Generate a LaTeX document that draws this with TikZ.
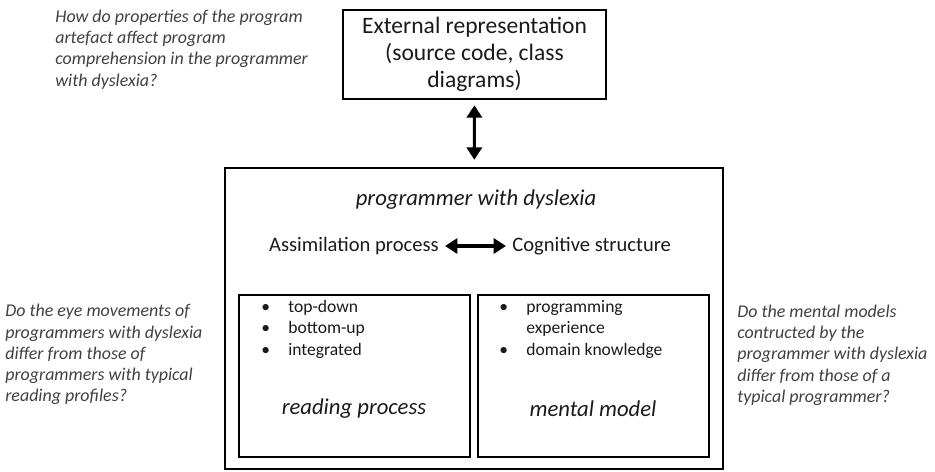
\documentclass[tikz,border=0pt]{standalone}
\usepackage{fontspec}
\setmainfont{Carlito}
\usetikzlibrary{arrows.meta}

\definecolor{qgray}{HTML}{404040}
\definecolor{boxtext}{HTML}{1A1A1A}

\begin{document}
\begin{tikzpicture}[x=0.2mm, y=-0.2mm]

\tikzset{
  frame/.style={rectangle, draw, line width=1.4pt},
  question/.style={anchor=north west, inner sep=0pt, align=left, text=qgray, font=\fontsize{10.2}{12.1}\selectfont\itshape},
  heading/.style={inner sep=0pt, text=boxtext, font=\fontsize{12.9}{15}\selectfont\itshape},
  proc/.style={inner sep=1.2mm, text=boxtext, font=\fontsize{11.7}{14}\selectfont},
  bullets/.style={anchor=base west, inner sep=0pt, text=boxtext, font=\fontsize{10}{12.4}\selectfont},
  >={Triangle[width=8.5pt, length=7pt]}
}

\useasboundingbox (0,0) rectangle (935,471);

% --- Kaesten ---
\node[frame, minimum width=52.6mm, minimum height=17.8mm, align=center, text=boxtext,
      font=\fontsize{13.4}{15.5}\selectfont] (extbox) at (474.5,54.5)
      {External representation\\(source code, class\\diagrams)};
\node[frame, minimum width=99.6mm, minimum height=60.2mm] (progbox) at (474,318.5) {};
\node[frame, minimum width=46.2mm, minimum height=32.4mm] (readbox) at (354.5,376) {};
\node[frame, minimum width=46.2mm, minimum height=32.4mm] (mentbox) at (593.5,376) {};

% --- Texte im grossen Kasten ---
\node[heading] (progtitle) at (476,200) {programmer with dyslexia};
\node[proc, anchor=east] (assim) at (445,246) {Assimilation process};
\node[proc, anchor=west] (cogn) at (506,246) {Cognitive structure};

\node[bullets] (readlist) at (261,312) {\begin{tabular}[t]{@{}p{5.4mm}@{}l@{}}
  \textbullet & top-down\\ \textbullet & bottom-up\\ \textbullet & integrated\end{tabular}};
\node[bullets] (mentlist) at (499,312) {\begin{tabular}[t]{@{}p{5.4mm}@{}l@{}}
  \textbullet & programming\\ & experience\\ \textbullet & domain knowledge\end{tabular}};

\node[heading] (readname) at (354,409) {reading process};
\node[heading] (mentname) at (593,409) {mental model};

% --- Pfeile ---
\draw[<->, line width=1.8pt, shorten <=1mm, shorten >=1.4mm] (extbox) -- (progbox);
\draw[<->, line width=1.8pt] (assim) -- (cogn);

% --- Fragen ---
\node[question] (qtop) at (55,9.5)
  {How do properties of the program\\artefact affect program\\comprehension in the programmer\\with dyslexia?};
\node[question] (qleft) at (5,304)
  {Do the eye movements of\\programmers with dyslexia\\differ from those of\\programmers with typical\\reading profiles?};
\node[question] (qright) at (737,304.5)
  {Do the mental models\\contructed by the\\programmer with dyslexia\\differ from those of a\\typical programmer?};

\end{tikzpicture}
\end{document}
